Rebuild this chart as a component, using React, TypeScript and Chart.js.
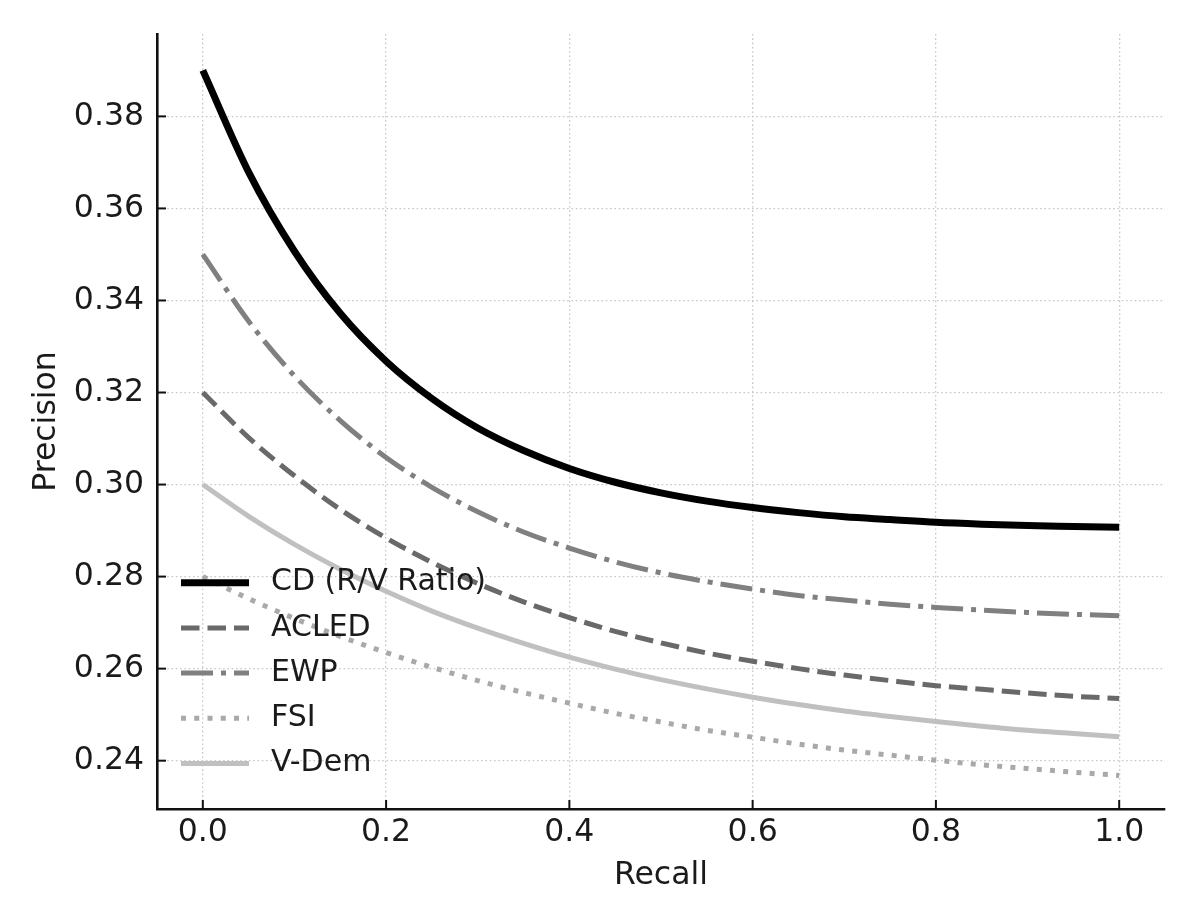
import { useEffect, useRef } from "react"
import { Chart, registerables } from "chart.js"

Chart.register(...registerables)

// recall 값 (x축)
const recall = [
  0, 0.05, 0.1, 0.15, 0.2, 0.25, 0.3, 0.35, 0.4, 0.45, 0.5,
  0.55, 0.6, 0.65, 0.7, 0.75, 0.8, 0.85, 0.9, 0.95, 1.0,
]

// precision 값 (시리즈별)
const cdRatio = [
  0.39, 0.3679, 0.3507, 0.3372, 0.3268, 0.3187, 0.3123, 0.3074, 0.3035, 0.3005, 0.2982,
  0.2964, 0.295, 0.2939, 0.293, 0.2924, 0.2918, 0.2914, 0.2911, 0.2909, 0.2907,
]
const acled = [
  0.32, 0.3102, 0.3019, 0.2946, 0.2884, 0.2831, 0.2785, 0.2745, 0.2711, 0.2681, 0.2656,
  0.2634, 0.2616, 0.26, 0.2586, 0.2574, 0.2563, 0.2555, 0.2547, 0.254, 0.2535,
]
const ewp = [
  0.35, 0.3355, 0.3236, 0.3139, 0.3059, 0.2994, 0.2941, 0.2897, 0.2862, 0.2832, 0.2808,
  0.2789, 0.2773, 0.2759, 0.2749, 0.274, 0.2733, 0.2727, 0.2722, 0.2718, 0.2715,
]
const fsi = [
  0.28, 0.2752, 0.2709, 0.267, 0.2635, 0.2603, 0.2574, 0.2548, 0.2525, 0.2503, 0.2484,
  0.2466, 0.2451, 0.2436, 0.2423, 0.2412, 0.2401, 0.2391, 0.2383, 0.2375, 0.2368,
]
const vDem = [
  0.3, 0.2931, 0.287, 0.2816, 0.2768, 0.2725, 0.2688, 0.2655, 0.2625, 0.2599, 0.2576,
  0.2556, 0.2538, 0.2522, 0.2508, 0.2496, 0.2485, 0.2475, 0.2466, 0.2459, 0.2452,
]

const seriesLabels = ["CD (R/V Ratio)", "ACLED", "EWP", "FSI", "V-Dem"]
const seriesValues = [cdRatio, acled, ewp, fsi, vDem]

// 눈금 라벨
const xTicks = [0, 0.2, 0.4, 0.6, 0.8, 1.0]
const yTicks = [0.24, 0.26, 0.28, 0.3, 0.32, 0.34, 0.36, 0.38]

// 선 스타일
const seriesStyles = [
  { color: "#000000", width: 7, dash: [] as number[] },
  { color: "#696969", width: 5, dash: [18.5, 8] },
  { color: "#808080", width: 5, dash: [32, 8, 5, 8] },
  { color: "#a9a9a9", width: 5, dash: [5, 8.25] },
  { color: "#c0c0c0", width: 5, dash: [] as number[] },
]

const textColor = "#1a1a1a"
const fontFamily = "'DejaVu Sans', sans-serif"

// 안쪽 눈금 + 범례 그리기
const overlayPlugin = {
  id: "overlay",
  afterDraw(chart: any) {
    const { ctx, chartArea, scales } = chart
    ctx.save()
    ctx.strokeStyle = "#111111"
    ctx.lineWidth = 2
    ctx.setLineDash([])
    xTicks.forEach((v) => {
      const px = scales.x.getPixelForValue(v)
      ctx.beginPath()
      ctx.moveTo(px, chartArea.bottom)
      ctx.lineTo(px, chartArea.bottom - 9)
      ctx.stroke()
    })
    yTicks.forEach((v) => {
      const py = scales.y.getPixelForValue(v)
      ctx.beginPath()
      ctx.moveTo(chartArea.left, py)
      ctx.lineTo(chartArea.left + 9, py)
      ctx.stroke()
    })

    // 범례 (테두리 없음, 왼쪽 아래)
    const x0 = chartArea.left + 24
    const lineLen = 68
    const rowH = 45.2
    const yStart = chartArea.bottom - 226.3
    chart.data.datasets.forEach((ds: any, i: number) => {
      const y = yStart + i * rowH
      ctx.strokeStyle = ds.borderColor
      ctx.lineWidth = ds.borderWidth
      ctx.lineCap = "butt"
      ctx.setLineDash(ds.borderDash || [])
      ctx.beginPath()
      ctx.moveTo(x0, y)
      ctx.lineTo(x0 + lineLen, y)
      ctx.stroke()
      ctx.setLineDash([])
      ctx.fillStyle = textColor
      ctx.font = `30px ${fontFamily}`
      ctx.textBaseline = "middle"
      ctx.textAlign = "left"
      ctx.fillText(ds.label, x0 + 90, y)
    })
    ctx.restore()
  },
}

export default function App() {
  const chartRef = useRef<HTMLCanvasElement>(null)
  const chartInstance = useRef<Chart | null>(null)

  useEffect(() => {
    if (!chartRef.current) return
    if (chartInstance.current) chartInstance.current.destroy()

    const ctx = chartRef.current.getContext("2d")
    if (!ctx) return

    chartInstance.current = new Chart(ctx, {
      type: "line",
      data: {
        datasets: seriesLabels.map((label, i) => ({
          label,
          data: recall.map((x, j) => ({ x, y: seriesValues[i][j] })),
          borderColor: seriesStyles[i].color,
          backgroundColor: seriesStyles[i].color,
          borderWidth: seriesStyles[i].width,
          borderDash: seriesStyles[i].dash,
          borderCapStyle: "butt" as const,
          pointRadius: 0,
          cubicInterpolationMode: "monotone" as const,
          fill: false,
          order: seriesLabels.length - i,
        })),
      },
      options: {
        responsive: true,
        maintainAspectRatio: false,
        animation: false,
        layout: { padding: { top: 34, right: 35, left: 0, bottom: 0 } },
        plugins: {
          legend: { display: false },
          tooltip: { enabled: false },
        },
        scales: {
          x: {
            type: "linear",
            min: -0.05,
            max: 1.05,
            afterBuildTicks: (scale: any) => {
              scale.ticks = xTicks.map((value) => ({ value }))
            },
            afterFit: (scale: any) => {
              scale.height = 113
            },
            ticks: {
              autoSkip: false,
              maxRotation: 0,
              padding: 5,
              color: textColor,
              font: { family: fontFamily, size: 31.5 },
              callback: (v: any) => Number(v).toFixed(1),
            },
            grid: {
              color: "#c8c8c8",
              lineWidth: 1.3,
              drawTicks: false,
            },
            border: { display: true, color: "#111111", width: 2.6, dash: [1.6, 2.7] },
            title: {
              display: true,
              text: "Recall",
              color: textColor,
              font: { family: fontFamily, size: 31.5 },
              padding: { top: 0, bottom: 27 },
            },
          },
          y: {
            type: "linear",
            min: 0.2295,
            max: 0.3979,
            afterBuildTicks: (scale: any) => {
              scale.ticks = yTicks.map((value) => ({ value }))
            },
            afterFit: (scale: any) => {
              scale.width = 157
            },
            ticks: {
              autoSkip: false,
              padding: 13,
              color: textColor,
              font: { family: fontFamily, size: 31.5 },
              callback: (v: any) => Number(v).toFixed(2),
            },
            grid: {
              color: "#c8c8c8",
              lineWidth: 1.3,
              drawTicks: false,
            },
            border: { display: true, color: "#111111", width: 2.6, dash: [1.6, 2.7] },
            title: {
              display: true,
              text: "Precision",
              color: textColor,
              font: { family: fontFamily, size: 31.5 },
              padding: { top: 28, bottom: 0 },
            },
          },
        },
      },
      plugins: [overlayPlugin],
    })

    return () => {
      if (chartInstance.current) {
        chartInstance.current.destroy()
        chartInstance.current = null
      }
    }
  }, [])

  return (
    <div
      style={{
        position: "fixed",
        left: 0,
        top: 0,
        width: "1200px",
        height: "922px",
        background: "#ffffff",
      }}
    >
      <canvas ref={chartRef} />
    </div>
  )
}
